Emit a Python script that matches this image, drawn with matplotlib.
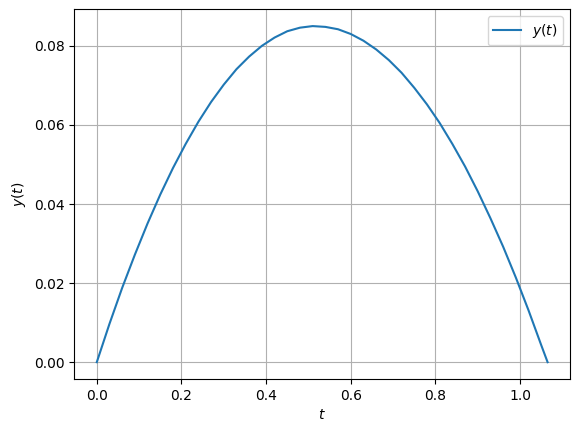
import numpy as np
import matplotlib
matplotlib.use("Agg")
import matplotlib.pyplot as plt

# values
t = [0.0, 0.03, 0.06, 0.09, 0.12, 0.15, 0.18, 0.21, 0.24, 0.27, 0.30, 0.33,
     0.36, 0.39, 0.42, 0.45, 0.48, 0.51, 0.54, 0.57, 0.60, 0.63, 0.66, 0.69,
     0.72, 0.75, 0.78, 0.81, 0.84, 0.87, 0.90, 0.93, 0.96, 0.99, 1.02, 1.05, 1.065]
y = [0.0, 0.0097, 0.0188, 0.0272, 0.0351, 0.0424, 0.0491, 0.0552, 0.0608,
     0.0658, 0.0702, 0.0741, 0.0773, 0.0800, 0.0821, 0.0837, 0.0846, 0.0850,
     0.0848, 0.0842, 0.0830, 0.0813, 0.0791, 0.0764, 0.0732, 0.0694, 0.0652,
     0.0605, 0.0552, 0.0495, 0.0432, 0.0364, 0.0292, 0.0214, 0.0131, 0.0043, 0.0]

fig = plt.figure(figsize=(5.8, 4.32), dpi=100)
ax = fig.add_subplot(111)
fig.subplots_adjust(left=0.128, right=0.983, top=0.9785, bottom=0.1227)

ax.plot(t, y, label="$y(t)$")
ax.set_xlabel("$t$")
ax.set_ylabel("$y(t)$")
ax.grid(True)
ax.legend(loc="upper right")

fig.savefig("out.png", dpi=100)
